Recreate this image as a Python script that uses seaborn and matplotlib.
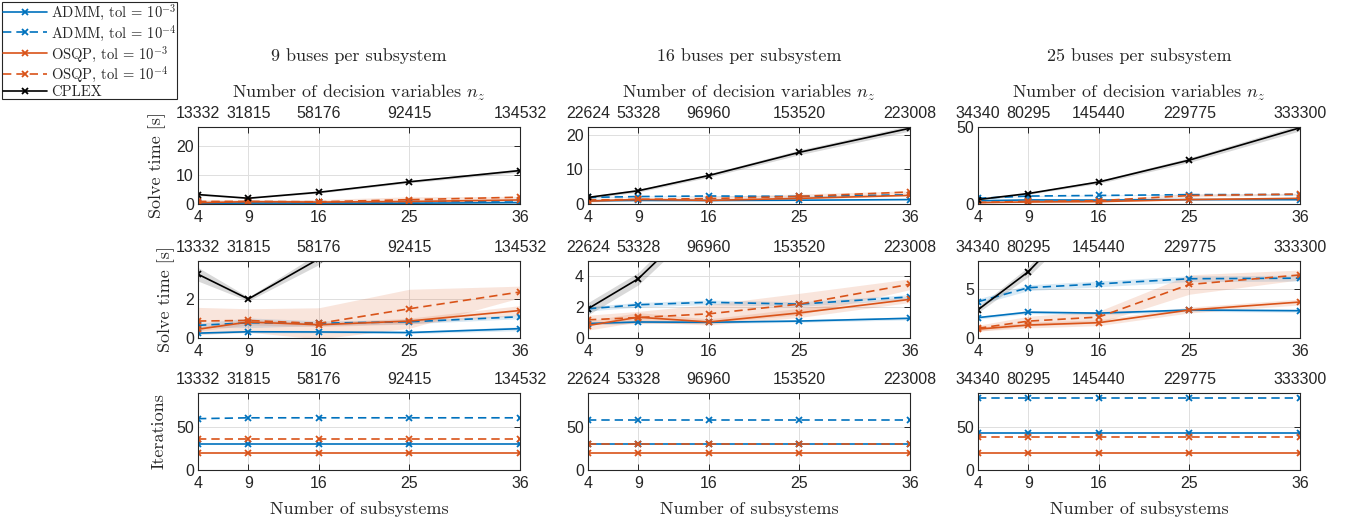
import numpy as np
import pandas as pd
import matplotlib
matplotlib.use("Agg")
import matplotlib.pyplot as plt
import seaborn as sns
from matplotlib.lines import Line2D

# ---------------- data ----------------
subsystems = [4, 9, 16, 25, 36]
nz_9 = [13332, 31815, 58176, 92415, 134532]
nz_16 = [22624, 53328, 96960, 153520, 223008]
nz_25 = [34340, 80295, 145440, 229775, 333300]

col_titles = ["9 buses per subsystem", "16 buses per subsystem", "25 buses per subsystem"]
series_labels = ["ADMM, tol = $10^{-3}$", "ADMM, tol = $10^{-4}$",
                 "OSQP, tol = $10^{-3}$", "OSQP, tol = $10^{-4}$", "CPLEX"]

# solve time [s] (mean) -- 9 buses
t9_admm3 = [0.25, 0.32, 0.31, 0.28, 0.48]
t9_admm4 = [0.65, 0.78, 0.76, 0.83, 1.09]
t9_osqp3 = [0.45, 0.82, 0.68, 0.87, 1.41]
t9_osqp4 = [0.87, 0.90, 0.75, 1.50, 2.36]
t9_cplex = [3.27, 2.00, 4.06, 7.70, 11.60]
# spread (half width of shaded band) -- 9 buses
s9_admm3 = [0.05, 0.05, 0.05, 0.06, 0.10]
s9_admm4 = [0.10, 0.25, 0.12, 0.10, 0.10]
s9_osqp3 = [0.10, 0.15, 0.10, 0.15, 0.25]
s9_osqp4 = [0.70, 0.60, 0.80, 1.00, 0.30]
s9_cplex = [0.35, 0.10, 0.30, 0.40, 0.60]

# 16 buses
t16_admm3 = [0.94, 1.04, 1.02, 1.10, 1.28]
t16_admm4 = [1.90, 2.16, 2.32, 2.20, 2.67]
t16_osqp3 = [0.81, 1.35, 1.04, 1.63, 2.51]
t16_osqp4 = [1.18, 1.33, 1.57, 2.20, 3.49]
t16_cplex = [1.90, 3.85, 8.25, 14.96, 21.95]
s16_admm3 = [0.08, 0.08, 0.08, 0.08, 0.10]
s16_admm4 = [0.15, 0.15, 0.15, 0.15, 0.15]
s16_osqp3 = [0.30, 0.30, 0.20, 0.30, 0.20]
s16_osqp4 = [0.30, 0.40, 0.60, 0.70, 0.35]
s16_cplex = [0.40, 0.40, 0.50, 0.70, 0.80]

# 25 buses
t25_admm3 = [2.09, 2.65, 2.55, 2.87, 2.80]
t25_admm4 = [3.72, 5.16, 5.55, 6.08, 6.14]
t25_osqp3 = [0.91, 1.33, 1.57, 2.87, 3.69]
t25_osqp4 = [1.00, 1.73, 2.15, 5.49, 6.47]
t25_cplex = [2.90, 6.80, 14.30, 28.50, 49.50]
s25_admm3 = [0.15, 0.15, 0.15, 0.15, 0.15]
s25_admm4 = [0.30, 0.30, 0.30, 0.30, 0.30]
s25_osqp3 = [0.20, 0.30, 0.30, 0.30, 0.30]
s25_osqp4 = [0.30, 0.50, 0.60, 1.00, 0.50]
s25_cplex = [0.30, 0.50, 1.00, 1.50, 2.00]

# iterations
it9_admm3 = [30, 30, 30, 30, 30]
it9_admm4 = [60, 61, 61, 61, 61]
it9_osqp3 = [20, 20, 20, 20, 20]
it9_osqp4 = [36, 36, 36, 36, 36]
it16_admm3 = [30, 30, 30, 30, 30]
it16_admm4 = [58, 58, 58, 58, 58]
it16_osqp3 = [20, 20, 20, 20, 20]
it16_osqp4 = [30, 30, 30, 30, 30]
it25_admm3 = [43, 43, 43, 43, 43]
it25_admm4 = [84, 84, 84, 84, 84]
it25_osqp3 = [20, 20, 20, 20, 20]
it25_osqp4 = [39, 39, 39, 39, 39]

# ---------------- style ----------------
sns.set_style("white")
plt.rcParams["mathtext.fontset"] = "cm"
plt.rcParams["axes.unicode_minus"] = False
plt.rcParams["font.family"] = ["Liberation Sans", "DejaVu Sans"]

BLUE = "#0072BD"
ORANGE = "#D95319"
BLACK = "#000000"
colors = [BLUE, BLUE, ORANGE, ORANGE, BLACK]
styles = ["-", (0, (5, 3)), "-", (0, (5, 3)), "-"]
SERIF = "cmr10"
TXT = "#262626"
TICK_FS = 11.5
LAB_FS = 13

time_cols = [
    ([t9_admm3, t9_admm4, t9_osqp3, t9_osqp4, t9_cplex],
     [s9_admm3, s9_admm4, s9_osqp3, s9_osqp4, s9_cplex]),
    ([t16_admm3, t16_admm4, t16_osqp3, t16_osqp4, t16_cplex],
     [s16_admm3, s16_admm4, s16_osqp3, s16_osqp4, s16_cplex]),
    ([t25_admm3, t25_admm4, t25_osqp3, t25_osqp4, t25_cplex],
     [s25_admm3, s25_admm4, s25_osqp3, s25_osqp4, s25_cplex]),
]
iter_cols = [
    [it9_admm3, it9_admm4, it9_osqp3, it9_osqp4],
    [it16_admm3, it16_admm4, it16_osqp3, it16_osqp4],
    [it25_admm3, it25_admm4, it25_osqp3, it25_osqp4],
]
nz_cols = [nz_9, nz_16, nz_25]

row1_ylim = [26.7, 22.3, 50]
row1_yticks = [[0, 10, 20], [0, 10, 20], [0, 50]]
row2_ylim = [3.95, 5.0, 7.9]
row2_yticks = [[0, 2], [0, 2, 4], [0, 5]]

fig = plt.figure(figsize=(13.48, 5.25), dpi=100)
lefts = [198 / 1348, 588 / 1348, 978 / 1348]
width = 322 / 1348
bottoms = [1 - 204 / 525, 1 - 338 / 525, 1 - 470 / 525]
height = 77 / 525


def time_frame(means, spreads):
    rows = []
    for k, (m, s) in enumerate(zip(means, spreads)):
        for x, mv, sv in zip(subsystems, m, s):
            for v in (mv - sv, mv, mv + sv):
                rows.append({"series": k, "x": x, "y": v})
    return pd.DataFrame(rows)


def iter_frame(vals):
    rows = []
    for k, m in enumerate(vals):
        for x, mv in zip(subsystems, m):
            rows.append({"series": k, "x": x, "y": mv})
    return pd.DataFrame(rows)


def style_axes(ax, nz, ylim, yticks):
    ax.set_xlim(4, 36)
    ax.set_ylim(0, ylim)
    ax.set_xticks(subsystems)
    ax.set_xticklabels([str(s) for s in subsystems])
    ax.set_yticks(yticks)
    ax.grid(True, color="0.87", lw=0.7)
    ax.set_axisbelow(True)
    for sp in ax.spines.values():
        sp.set_color("#262626")
        sp.set_linewidth(0.8)
    ax.tick_params(axis="both", direction="in", length=4, width=0.7,
                   labelsize=TICK_FS, colors="#262626", labelcolor=TXT,
                   top=False, right=True)
    ax.tick_params(axis="x", pad=4)
    ax.tick_params(axis="y", pad=3)
    ax.set_xlabel("")
    ax.set_ylabel("")
    axt = ax.twiny()
    axt.set_xlim(4, 36)
    axt.set_xticks(subsystems)
    axt.set_xticklabels([str(v) for v in nz])
    axt.tick_params(axis="x", direction="in", length=4, width=0.7,
                    labelsize=TICK_FS, colors="#262626", labelcolor=TXT, pad=4)
    for sp in axt.spines.values():
        sp.set_visible(False)
    return axt


for c in range(3):
    means, spreads = time_cols[c]
    df_t = time_frame(means, spreads)
    for r in range(2):
        ax = fig.add_axes([lefts[c], bottoms[r], width, height])
        for k in range(5):
            sub = df_t[df_t["series"] == k]
            sns.lineplot(data=sub, x="x", y="y", ax=ax, estimator="median",
                         errorbar=("pi", 100), color=colors[k], linestyle=styles[k],
                         linewidth=1.2, marker="x", markersize=5,
                         markeredgecolor=colors[k], markeredgewidth=1.3,
                         err_kws={"alpha": 0.15, "linewidth": 0})
        ylim = row1_ylim[c] if r == 0 else row2_ylim[c]
        yt = row1_yticks[c] if r == 0 else row2_yticks[c]
        axt = style_axes(ax, nz_cols[c], ylim, yt)
        if c == 0:
            ax.set_ylabel("Solve time [s]", family=SERIF, fontsize=LAB_FS, color=TXT, labelpad=7)
        if r == 0:
            axt.set_xlabel("Number of decision variables $n_z$", family=SERIF,
                           fontsize=LAB_FS, color=TXT, labelpad=6)
            axt.set_title(col_titles[c], family=SERIF, fontsize=LAB_FS, color=TXT, pad=16)

    df_i = iter_frame(iter_cols[c])
    ax = fig.add_axes([lefts[c], bottoms[2], width, height])
    for k in range(4):
        sub = df_i[df_i["series"] == k]
        sns.lineplot(data=sub, x="x", y="y", ax=ax, errorbar=None,
                     color=colors[k], linestyle=styles[k], linewidth=1.2,
                     marker="x", markersize=5, markeredgecolor=colors[k],
                     markeredgewidth=1.3)
    style_axes(ax, nz_cols[c], 90, [0, 50])
    ax.set_xlabel("Number of subsystems", family=SERIF, fontsize=LAB_FS, color=TXT, labelpad=7.5)
    if c == 0:
        ax.set_ylabel("Iterations", family=SERIF, fontsize=LAB_FS, color=TXT, labelpad=7)

handles = [Line2D([], [], color=colors[k], linestyle=styles[k], linewidth=1.2,
                  marker="x", markersize=5, markeredgewidth=1.3)
           for k in range(5)]
leg = fig.legend(handles, series_labels, loc="upper left",
                 bbox_to_anchor=(0.0015, 0.997), frameon=True, fancybox=False,
                 edgecolor="#262626", framealpha=1, borderaxespad=0,
                 handlelength=3.0, handletextpad=0.3, labelspacing=0.05,
                 borderpad=0.05, prop={"family": SERIF, "size": 10.5})
leg.get_frame().set_linewidth(0.8)

fig.savefig("out.png", dpi=100)
